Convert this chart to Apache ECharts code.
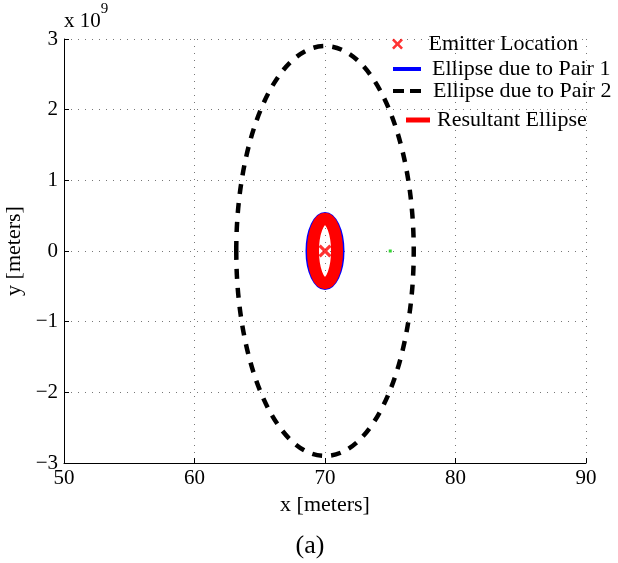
<!DOCTYPE html>
<html>
<head>
<meta charset="utf-8">
<script src="https://cdn.jsdelivr.net/npm/echarts@6/dist/echarts.min.js"></script>
<style>
  html, body { margin: 0; padding: 0; background: #fff; }
  #main { width: 618px; height: 563px; }
</style>
</head>
<body>
<div id="main"></div>
<script>
// axis ticks
var xTicks = [50, 60, 70, 80, 90]
var yTicks = [-3e9, -2e9, -1e9, 0, 1e9, 2e9, 3e9]

// emitter and the small green point
var emitterPoint = [[70, 0]]
var greenPoint = [[75, 0]]

// ellipses: [centre x, centre y, semi-axis x, semi-axis y]
var pair1Ellipse = [[70, 0, 1.38, 0.53e9]]
var pair2Ellipse = [[70, 0, 6.8, 2.9e9]]
var resultEllipse = [[70, 0, 0.92, 0.455e9]]

var serif = 'Liberation Serif'
var xPath = 'path://M0,1.7L1.7,0L5,3.3L8.3,0L10,1.7L6.7,5L10,8.3L8.3,10L5,6.7L1.7,10L0,8.3L3.3,5Z'

function ellipseSeries(name, data, color, width, dash, z) {
  return {
    name: name,
    type: 'custom',
    data: data,
    z: z,
    encode: { x: 0, y: 1 },
    itemStyle: { color: color },
    renderItem: function (params, api) {
      var c = api.coord([api.value(0), api.value(1)])
      var s = api.size([api.value(2), api.value(3)])
      return {
        type: 'ellipse',
        shape: { cx: c[0], cy: c[1], rx: s[0], ry: s[1] },
        style: { fill: 'none', stroke: color, lineWidth: width, lineDash: dash }
      }
    }
  }
}

function legendAt(name, icon, color, left, top, w, h, gap) {
  return {
    data: [{ name: name, icon: icon, itemStyle: { color: color } }],
    left: left,
    top: top,
    padding: 0,
    itemWidth: w,
    itemHeight: h,
    selectedMode: false,
    textStyle: { fontFamily: serif, fontSize: 22, color: '#000', lineHeight: 22, padding: [0, 0, 0, gap] }
  }
}

var myChart = echarts.init(document.getElementById('main'))
myChart.setOption({
  animation: false,
  grid: { left: 64, right: 32, top: 39, bottom: 100, containLabel: false, outerBoundsMode: 'none' },
  xAxis: {
    type: 'value',
    min: xTicks[0],
    max: xTicks[xTicks.length - 1],
    interval: 10,
    name: 'x [meters]',
    nameLocation: 'middle',
    nameGap: 29,
    nameTextStyle: { fontFamily: serif, fontSize: 22, color: '#000' },
    axisLine: { onZero: false, lineStyle: { color: '#000', width: 1 } },
    axisTick: { inside: true, length: 5, lineStyle: { color: '#000' } },
    axisLabel: { fontFamily: serif, fontSize: 21, color: '#000', margin: 5 },
    splitLine: { show: true, lineStyle: { color: '#777', type: [1, 6], width: 1 } }
  },
  yAxis: {
    type: 'value',
    min: yTicks[0],
    max: yTicks[yTicks.length - 1],
    interval: 1e9,
    name: 'y [meters]',
    nameLocation: 'middle',
    nameGap: 39,
    nameTextStyle: { fontFamily: serif, fontSize: 22, color: '#000' },
    axisLine: { show: true, onZero: false, lineStyle: { color: '#000', width: 1 } },
    axisTick: { show: true, inside: true, length: 5, lineStyle: { color: '#000' } },
    axisLabel: {
      fontFamily: serif, fontSize: 21, color: '#000', margin: 6,
      formatter: function (v) {
        var n = Math.round(v / 1e9)
        return n < 0 ? '\u2212' + Math.abs(n) : String(n)
      }
    },
    splitLine: { show: true, lineStyle: { color: '#777', type: [1, 6], width: 1 } }
  },
  legend: [
    legendAt('Emitter Location', xPath, '#ff0000', 392, 33, 12, 11, 20),
    legendAt('Ellipse due to Pair 1', 'path://M0,0H28V4H0Z', '#0000ff', 393, 58, 28, 4, 6),
    legendAt('Ellipse due to Pair 2', 'path://M0,0H11V4H0Z M17,0H28V4H17Z', '#000000', 393, 80, 28, 4, 7),
    legendAt('Resultant Ellipse', 'path://M0,0H24V5H0Z', '#ff0000', 406, 109, 24, 5, 2)
  ],
  graphic: [
    {
      type: 'text', left: 64, top: 2,
      style: {
        text: '{b|x 10}{s|9}',
        rich: {
          b: { fontFamily: serif, fontSize: 21, fill: '#000', padding: [9, 0, 0, 0] },
          s: { fontFamily: serif, fontSize: 15, fill: '#000', verticalAlign: 'top' }
        }
      }
    },
    {
      type: 'text', x: 310, y: 546,
      style: { text: '(a)', fontFamily: serif, fontSize: 26, fill: '#000', align: 'center', verticalAlign: 'middle' }
    }
  ],
  series: [
    ellipseSeries('Ellipse due to Pair 2', pair2Ellipse, '#000000', 4.5, [10, 9], 2),
    ellipseSeries('Ellipse due to Pair 1', pair1Ellipse, '#0000ff', 3, null, 3),
    ellipseSeries('Resultant Ellipse', resultEllipse, '#ff0000', 12, null, 4),
    {
      name: 'Emitter Location',
      type: 'scatter',
      data: emitterPoint,
      symbol: xPath,
      symbolSize: 13,
      itemStyle: { color: '#ff0000' },
      z: 5
    },
    {
      name: 'point',
      type: 'scatter',
      data: greenPoint,
      symbol: 'rect',
      symbolSize: 3,
      itemStyle: { color: '#00cc00' },
      z: 5
    }
  ]
})
</script>
</body>
</html>
